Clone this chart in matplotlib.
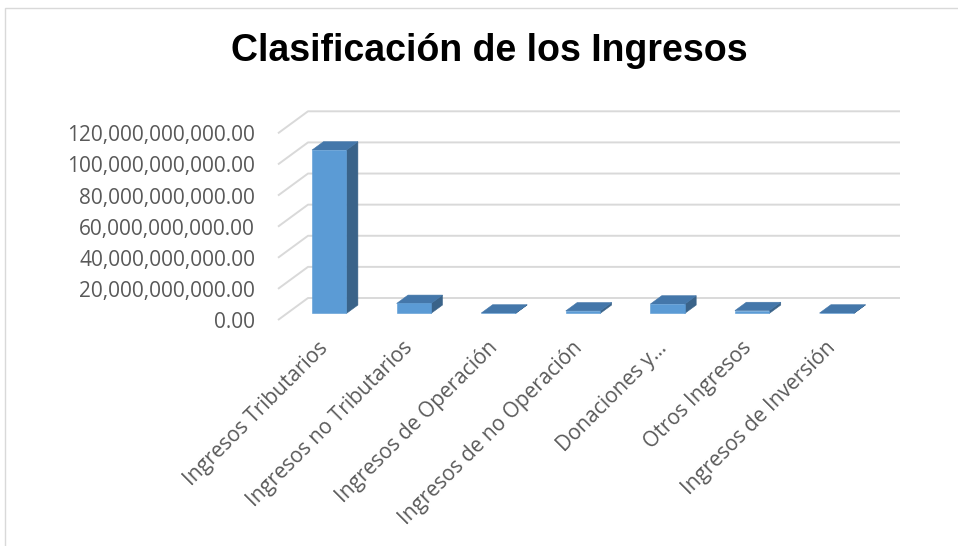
import matplotlib
matplotlib.use('Agg')
import matplotlib.pyplot as plt
from matplotlib.patches import Polygon, Rectangle
from matplotlib.lines import Line2D
import matplotlib.transforms as mtrans

# ---- data ----
title = "Clasificación de los Ingresos"
categories = ["Ingresos Tributarios", "Ingresos no Tributarios", "Ingresos de Operación",
              "Ingresos de no Operación", "Donaciones y...", "Otros Ingresos",
              "Ingresos de Inversión"]
values = [105.0e9, 6.4e9, 0.2e9, 1.6e9, 6.0e9, 1.8e9, 0.2e9]
yticks = [0, 20e9, 40e9, 60e9, 80e9, 100e9, 120e9]
ytick_labels = [f"{v:,.2f}" for v in yticks]

# ---- style ----
W, H, DPI = 958, 546, 100
FRONT = '#5B9BD5'
TOP = '#4477AA'
SIDE = '#3A6389'
GRID = '#D9D9D9'
TXT = '#595959'
BACK = (30, 22)          # depth offset of back wall, in pixels
D1, D2 = 0.30, 0.68      # bar depth range as fraction of floor depth
BW = 0.407               # bar width in category units

fig = plt.figure(figsize=(W / DPI, H / DPI), dpi=DPI)
ax = fig.add_axes([278 / W, 226 / H, 592 / W, 186.7 / H])
ax.set_xlim(-0.5, len(categories) - 0.5)
ax.set_ylim(0, 120e9)
ax.patch.set_visible(False)
for s in ax.spines.values():
    s.set_visible(False)
ax.set_xticks([])
ax.set_yticks(yticks)
ax.set_yticklabels(ytick_labels, family='Open Sans')
ax.tick_params(axis='y', length=0, pad=16.5, labelsize=15, labelcolor=TXT)

T = ax.transData
ident = mtrans.IdentityTransform()


def disp(x, y, d=0.0):
    px, py = T.transform((x, y))
    return (px + BACK[0] * d, py + BACK[1] * d)


# gridlines: diagonal on left side wall + horizontal on back wall
x0, x1 = ax.get_xlim()
for v in yticks:
    p0 = disp(x0, v, 0)
    p1 = disp(x0, v, 1)
    p2 = disp(x1, v, 1)
    ln = Line2D([p0[0], p1[0], p2[0]], [p0[1], p1[1], p2[1]], transform=ident,
                color=GRID, lw=1.4, zorder=1, solid_capstyle='butt')
    fig.add_artist(ln)

# bars
for i, v in enumerate(values):
    xl, xr = i - BW / 2, i + BW / 2
    front = [disp(xl, 0, D1), disp(xr, 0, D1), disp(xr, v, D1), disp(xl, v, D1)]
    top = [disp(xl, v, D1), disp(xr, v, D1), disp(xr, v, D2), disp(xl, v, D2)]
    side = [disp(xr, 0, D1), disp(xr, 0, D2), disp(xr, v, D2), disp(xr, v, D1)]
    for pts, c in ((side, SIDE), (top, TOP), (front, FRONT)):
        fig.add_artist(Polygon(pts, closed=True, transform=ident, facecolor=c,
                               edgecolor=c, lw=0.4, zorder=3))

# category labels
lab_tr = mtrans.offset_copy(ax.get_xaxis_transform(), fig=fig, x=5, y=-25, units='dots')
for i, c in enumerate(categories):
    ax.text(i, 0, c, transform=lab_tr, rotation=45, rotation_mode='anchor',
            ha='right', va='center', fontsize=15, color=TXT, family='Open Sans',
            clip_on=False)

# title
fig.text(489 / W, 1 - 51 / H, title, ha='center', va='center', fontsize=27,
         fontweight='bold', family='Liberation Sans', color='black')

# chart border
fig.add_artist(Rectangle((5 / W, -0.1), 1.2, 0.1 + (H - 8) / H,
                         transform=fig.transFigure, fill=False,
                         edgecolor=GRID, lw=1.0))

fig.savefig('out.png', dpi=DPI)
